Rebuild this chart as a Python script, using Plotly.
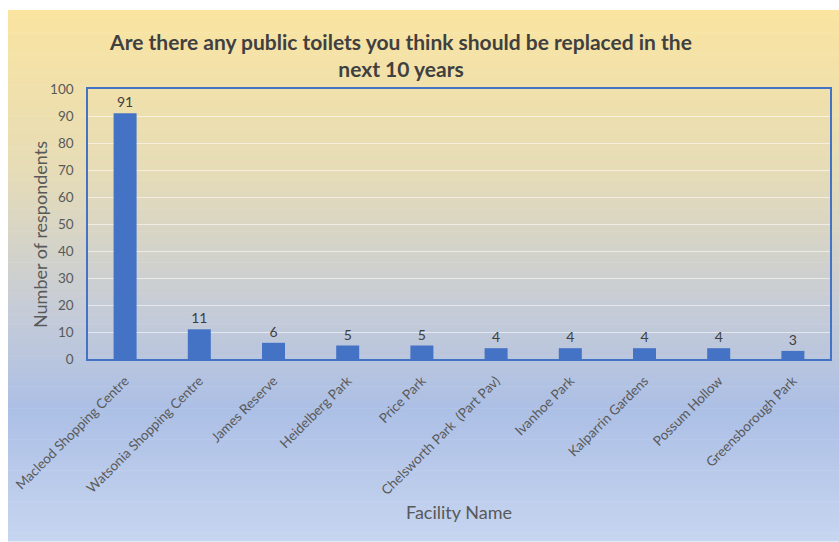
import plotly.graph_objects as go

# Survey results: toilets respondents think should be replaced
facilities = [
    "Macleod Shopping Centre",
    "Watsonia Shopping Centre",
    "James Reserve",
    "Heidelberg Park",
    "Price Park",
    "Chelsworth Park  (Part Pav)",
    "Ivanhoe Park",
    "Kalparrin Gardens",
    "Possum Hollow",
    "Greensborough Park",
]
respondents = [91, 11, 6, 5, 5, 4, 4, 4, 4, 3]
y_ticks = list(range(0, 101, 10))

W, H = 839, 542
ML, MR, MT, MB = 88, 9, 89, 183
PW, PH = W - ML - MR, H - MT - MB

# background gradient stops (position from top, rgb)
stops = [
    (0.00, (250, 228, 160)),
    (0.30, (230, 220, 182)),
    (0.55, (200, 205, 214)),
    (0.75, (172, 191, 229)),
    (1.00, (198, 213, 240)),
]


def grad_color(t):
    for (p0, c0), (p1, c1) in zip(stops[:-1], stops[1:]):
        if p0 <= t <= p1:
            f = (t - p0) / (p1 - p0)
            return "rgb(%d,%d,%d)" % tuple(round(a + (b - a) * f) for a, b in zip(c0, c1))
    return "rgb(%d,%d,%d)" % stops[-1][1]


def px_x(px):
    return (px - ML) / PW


def px_y(py):
    return 1 - (py - MT) / PH


shapes = []
top, bottom, left, right = 10, 541, 8, 839
n = 120
step = (bottom - top) / n
for i in range(n):
    y0 = top + i * step
    y1 = y0 + step + 0.6
    shapes.append(dict(
        type="rect", xref="paper", yref="paper", layer="below",
        x0=px_x(left), x1=px_x(right), y0=px_y(y1), y1=px_y(y0),
        fillcolor=grad_color((i + 0.5) / n), line=dict(width=0),
    ))

fig = go.Figure(go.Bar(
    x=facilities,
    y=respondents,
    marker=dict(color="#4472C4", line=dict(width=0)),
    text=respondents,
    textposition="outside",
    textfont=dict(family="Lato", size=14, color="#404040"),
    cliponaxis=False,
))

fig.update_layout(
    width=W, height=H,
    margin=dict(l=ML, r=MR, t=MT, b=MB, autoexpand=False),
    paper_bgcolor="white",
    plot_bgcolor="rgba(0,0,0,0)",
    bargap=0.69,
    showlegend=False,
    shapes=shapes,
    font=dict(family="Lato", color="#595959"),
    title=dict(
        text="<b>Are there any public toilets you think should be replaced in the<br>next 10 years</b>",
        x=401 / W, xanchor="center",
        y=1 - 50 / H, yanchor="middle",
        xref="container", yref="container",
        font=dict(family="Lato", size=21, color="#404040"),
    ),
    xaxis=dict(
        tickangle=-45,
        tickfont=dict(size=13.5, color="#595959"),
        showline=True, mirror=True, linecolor="#4472C4", linewidth=1.5,
        showgrid=False, ticks="", ticklabelstandoff=7,
        automargin=False,
    ),
    yaxis=dict(
        range=[0, 100],
        tickvals=y_ticks,
        tickfont=dict(size=13.5, color="#595959"),
        showline=True, mirror=True, linecolor="#4472C4", linewidth=1.5,
        showgrid=True, gridcolor="rgba(255,255,255,0.55)", gridwidth=1,
        zeroline=False, ticks="", ticklabelstandoff=10,
        automargin=False,
    ),
    annotations=[
        dict(text="Number of respondents", textangle=-90,
             xref="paper", yref="paper", x=px_x(40), y=px_y(235),
             xanchor="center", yanchor="middle", showarrow=False,
             font=dict(size=18, color="#595959")),
        dict(text="Facility Name",
             xref="paper", yref="paper", x=px_x(459), y=px_y(512),
             xanchor="center", yanchor="middle", showarrow=False,
             font=dict(size=18, color="#595959")),
    ],
)

fig.write_html("out.html")
